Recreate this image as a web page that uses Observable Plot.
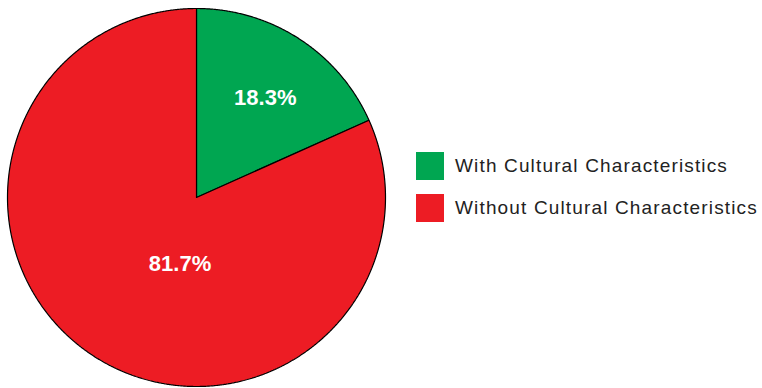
<!DOCTYPE html>
<html>
<head>
<meta charset="utf-8">
<script src="https://cdn.jsdelivr.net/npm/d3@7"></script>
<script src="https://cdn.jsdelivr.net/npm/@observablehq/plot@0.6"></script>
<style>
  html, body { margin: 0; padding: 0; background: #fff; }
  #wrap { position: relative; width: 762px; height: 388px; }
  #legend { position: absolute; left: 416px; top: 152px; font-family: "Liberation Sans", Arial, sans-serif; font-size: 19px; color: #222; letter-spacing: 1.15px; }
  .row { display: flex; align-items: center; height: 28px; margin-bottom: 14px; }
  .sw { width: 28px; height: 28px; margin-right: 11px; flex: none; }
</style>
</head>
<body>
<div id="wrap"></div>
<script>
const categories = ["With Cultural Characteristics", "Without Cultural Characteristics"];
const values = [18.3, 81.7];
const labels = ["18.3%", "81.7%"];
const colors = ["#00A651", "#ED1C24"];

// Angles clockwise from 12 o'clock
const pie = d3.pie().sort(null).value(d => d.value);
const arcs = pie(categories.map((c, i) => ({category: c, value: values[i], label: labels[i]})));

const pts = [];
for (const a of arcs) {
  const c = a.data.category;
  pts.push({category: c, x: 0, y: 0});
  const n = Math.max(2, Math.ceil((a.endAngle - a.startAngle) / 0.005));
  for (let k = 0; k <= n; k++) {
    const t = a.startAngle + (a.endAngle - a.startAngle) * k / n;
    pts.push({category: c, x: Math.sin(t), y: Math.cos(t)});
  }
  pts.push({category: c, x: 0, y: 0});
}

// label placement (angle offset, radius fraction) — layout, not data
const labelPlace = [{da: 0.03, r: 0.64}, {da: -0.33, r: 0.36}];
const labelPts = arcs.map((a, i) => {
  const t = (a.startAngle + a.endAngle) / 2 + labelPlace[i].da;
  return {label: a.data.label, x: labelPlace[i].r * Math.sin(t), y: labelPlace[i].r * Math.cos(t)};
});

const chart = Plot.plot({
  width: 762,
  height: 388,
  marginLeft: 7,
  marginRight: 377,
  marginTop: 8,
  marginBottom: 2,
  x: {domain: [-1, 1], axis: null},
  y: {domain: [-1, 1], axis: null},
  color: {domain: categories, range: colors},
  style: {background: "transparent", overflow: "visible"},
  marks: [
    Plot.line(pts, {x: "x", y: "y", z: "category", fill: "category", stroke: "#000", strokeWidth: 1.2, strokeLinejoin: "miter"}),
    Plot.text(labelPts, {x: "x", y: "y", text: "label", fill: "#fff", fontSize: 22, fontWeight: "bold", fontFamily: "Liberation Sans, Arial, sans-serif"})
  ]
});
const wrap = document.getElementById("wrap");
wrap.appendChild(chart);

const legend = document.createElement("div");
legend.id = "legend";
categories.forEach((c, i) => {
  const row = document.createElement("div");
  row.className = "row";
  const sw = document.createElement("div");
  sw.className = "sw";
  sw.style.background = colors[i];
  const tx = document.createElement("span");
  tx.textContent = c;
  row.appendChild(sw);
  row.appendChild(tx);
  legend.appendChild(row);
});
wrap.appendChild(legend);
</script>
</body>
</html>
